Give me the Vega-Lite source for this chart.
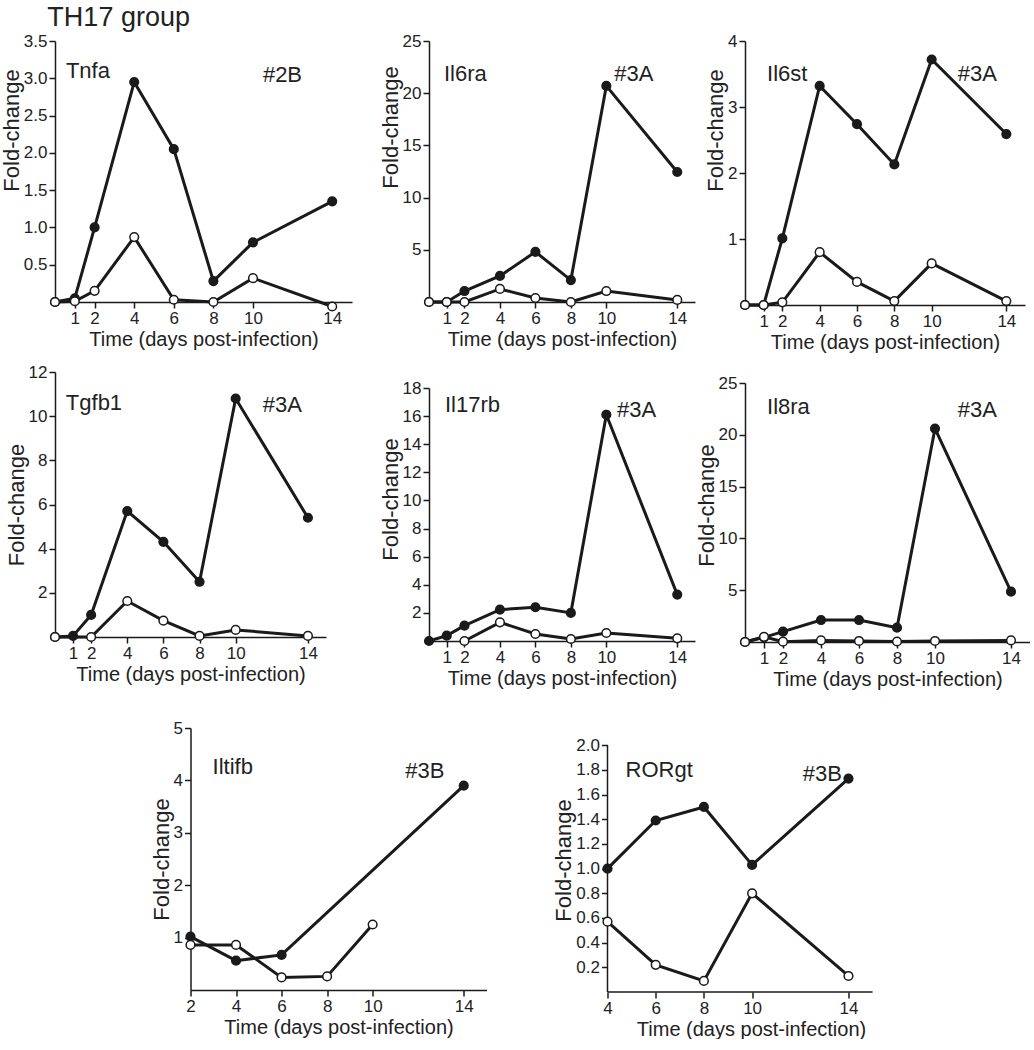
{
"$schema": "https://vega.github.io/schema/vega-lite/v6.json",
"padding": {"left": 0, "top": 4, "right": 0, "bottom": 0},
"background": "white",
"title": {"text": "TH17 group", "anchor": "start", "fontSize": 27, "fontWeight": "normal", "font": "Liberation Sans", "color": "#222", "dx": 47, "offset": 0},
"config": {
  "view": {"stroke": null},
  "axis": {"domainColor": "#1a1a1a", "domainWidth": 1.5, "tickColor": "#1a1a1a", "tickWidth": 1.5, "tickSize": 6, "labelFont": "Liberation Sans", "labelFontSize": 17, "labelColor": "#222", "labelPadding": 2, "labelFlush": false, "labelOverlap": false, "titleFont": "Liberation Sans", "titleFontWeight": "normal", "titleColor": "#222", "grid": false},
  "axisX": {"titleFontSize": 20, "titlePadding": 3},
  "axisY": {"titleFontSize": 22, "titlePadding": 0},
  "text": {"font": "Liberation Sans", "fontSize": 22, "color": "#222", "align": "left", "baseline": "middle"},
  "line": {"color": "#1a1a1a", "strokeWidth": 3, "clip": false},
  "point": {"shape": "circle", "filled": true, "stroke": "#1a1a1a", "strokeWidth": 1.5, "size": 75, "opacity": 1},
  "rule": {"color": "#1a1a1a", "strokeWidth": 1.5}
},
"datasets": {
  "series": [
    {"panel":"Tnfa","series":"filled","day":0,"fold":0},{"panel":"Tnfa","series":"filled","day":1,"fold":0.05},{"panel":"Tnfa","series":"filled","day":2,"fold":1.0},{"panel":"Tnfa","series":"filled","day":4,"fold":2.95},{"panel":"Tnfa","series":"filled","day":6,"fold":2.05},{"panel":"Tnfa","series":"filled","day":8,"fold":0.28},{"panel":"Tnfa","series":"filled","day":10,"fold":0.8},{"panel":"Tnfa","series":"filled","day":14,"fold":1.35},
    {"panel":"Tnfa","series":"open","day":0,"fold":0},{"panel":"Tnfa","series":"open","day":1,"fold":0.01},{"panel":"Tnfa","series":"open","day":2,"fold":0.15},{"panel":"Tnfa","series":"open","day":4,"fold":0.87},{"panel":"Tnfa","series":"open","day":6,"fold":0.03},{"panel":"Tnfa","series":"open","day":8,"fold":0.0},{"panel":"Tnfa","series":"open","day":10,"fold":0.32},{"panel":"Tnfa","series":"open","day":14,"fold":-0.06},
    {"panel":"Il6ra","series":"filled","day":0,"fold":0},{"panel":"Il6ra","series":"filled","day":1,"fold":0},{"panel":"Il6ra","series":"filled","day":2,"fold":1.05},{"panel":"Il6ra","series":"filled","day":4,"fold":2.5},{"panel":"Il6ra","series":"filled","day":6,"fold":4.8},{"panel":"Il6ra","series":"filled","day":8,"fold":2.1},{"panel":"Il6ra","series":"filled","day":10,"fold":20.7},{"panel":"Il6ra","series":"filled","day":14,"fold":12.45},
    {"panel":"Il6ra","series":"open","day":0,"fold":0},{"panel":"Il6ra","series":"open","day":1,"fold":0},{"panel":"Il6ra","series":"open","day":2,"fold":0},{"panel":"Il6ra","series":"open","day":4,"fold":1.25},{"panel":"Il6ra","series":"open","day":6,"fold":0.38},{"panel":"Il6ra","series":"open","day":8,"fold":0},{"panel":"Il6ra","series":"open","day":10,"fold":1.05},{"panel":"Il6ra","series":"open","day":14,"fold":0.2},
    {"panel":"Il6st","series":"filled","day":0,"fold":0},{"panel":"Il6st","series":"filled","day":1,"fold":0},{"panel":"Il6st","series":"filled","day":2,"fold":1.01},{"panel":"Il6st","series":"filled","day":4,"fold":3.32},{"panel":"Il6st","series":"filled","day":6,"fold":2.74},{"panel":"Il6st","series":"filled","day":8,"fold":2.13},{"panel":"Il6st","series":"filled","day":10,"fold":3.72},{"panel":"Il6st","series":"filled","day":14,"fold":2.59},
    {"panel":"Il6st","series":"open","day":0,"fold":0},{"panel":"Il6st","series":"open","day":1,"fold":0},{"panel":"Il6st","series":"open","day":2,"fold":0.04},{"panel":"Il6st","series":"open","day":4,"fold":0.8},{"panel":"Il6st","series":"open","day":6,"fold":0.35},{"panel":"Il6st","series":"open","day":8,"fold":0.06},{"panel":"Il6st","series":"open","day":10,"fold":0.63},{"panel":"Il6st","series":"open","day":14,"fold":0.06},
    {"panel":"Tgfb1","series":"filled","day":0,"fold":0},{"panel":"Tgfb1","series":"filled","day":1,"fold":0.05},{"panel":"Tgfb1","series":"filled","day":2,"fold":1.0},{"panel":"Tgfb1","series":"filled","day":4,"fold":5.7},{"panel":"Tgfb1","series":"filled","day":6,"fold":4.31},{"panel":"Tgfb1","series":"filled","day":8,"fold":2.5},{"panel":"Tgfb1","series":"filled","day":10,"fold":10.8},{"panel":"Tgfb1","series":"filled","day":14,"fold":5.4},
    {"panel":"Tgfb1","series":"open","day":0,"fold":0},{"panel":"Tgfb1","series":"open","day":2,"fold":0},{"panel":"Tgfb1","series":"open","day":4,"fold":1.63},{"panel":"Tgfb1","series":"open","day":6,"fold":0.74},{"panel":"Tgfb1","series":"open","day":8,"fold":0.05},{"panel":"Tgfb1","series":"open","day":10,"fold":0.32},{"panel":"Tgfb1","series":"open","day":14,"fold":0.05},
    {"panel":"Il17rb","series":"filled","day":0,"fold":0},{"panel":"Il17rb","series":"filled","day":1,"fold":0.38},{"panel":"Il17rb","series":"filled","day":2,"fold":1.09},{"panel":"Il17rb","series":"filled","day":4,"fold":2.23},{"panel":"Il17rb","series":"filled","day":6,"fold":2.4},{"panel":"Il17rb","series":"filled","day":8,"fold":2.0},{"panel":"Il17rb","series":"filled","day":10,"fold":16.1},{"panel":"Il17rb","series":"filled","day":14,"fold":3.3},
    {"panel":"Il17rb","series":"open","day":2,"fold":0},{"panel":"Il17rb","series":"open","day":4,"fold":1.33},{"panel":"Il17rb","series":"open","day":6,"fold":0.5},{"panel":"Il17rb","series":"open","day":8,"fold":0.14},{"panel":"Il17rb","series":"open","day":10,"fold":0.57},{"panel":"Il17rb","series":"open","day":14,"fold":0.19},
    {"panel":"Il8ra","series":"filled","day":0,"fold":0},{"panel":"Il8ra","series":"filled","day":1,"fold":0.45},{"panel":"Il8ra","series":"filled","day":2,"fold":1.0},{"panel":"Il8ra","series":"filled","day":4,"fold":2.12},{"panel":"Il8ra","series":"filled","day":6,"fold":2.12},{"panel":"Il8ra","series":"filled","day":8,"fold":1.38},{"panel":"Il8ra","series":"filled","day":10,"fold":20.6},{"panel":"Il8ra","series":"filled","day":14,"fold":4.86},
    {"panel":"Il8ra","series":"open","day":0,"fold":0},{"panel":"Il8ra","series":"open","day":1,"fold":0.5},{"panel":"Il8ra","series":"open","day":2,"fold":0.03},{"panel":"Il8ra","series":"open","day":4,"fold":0.15},{"panel":"Il8ra","series":"open","day":6,"fold":0.1},{"panel":"Il8ra","series":"open","day":8,"fold":0.05},{"panel":"Il8ra","series":"open","day":10,"fold":0.1},{"panel":"Il8ra","series":"open","day":14,"fold":0.15},
    {"panel":"Iltifb","series":"filled","day":2,"fold":1.02},{"panel":"Iltifb","series":"filled","day":4,"fold":0.56},{"panel":"Iltifb","series":"filled","day":6,"fold":0.67},{"panel":"Iltifb","series":"filled","day":14,"fold":3.9},
    {"panel":"Iltifb","series":"open","day":2,"fold":0.86},{"panel":"Iltifb","series":"open","day":4,"fold":0.86},{"panel":"Iltifb","series":"open","day":6,"fold":0.24},{"panel":"Iltifb","series":"open","day":8,"fold":0.26},{"panel":"Iltifb","series":"open","day":10,"fold":1.25},
    {"panel":"RORgt","series":"filled","day":4,"fold":1.0},{"panel":"RORgt","series":"filled","day":6,"fold":1.39},{"panel":"RORgt","series":"filled","day":8,"fold":1.5},{"panel":"RORgt","series":"filled","day":10,"fold":1.03},{"panel":"RORgt","series":"filled","day":14,"fold":1.73},
    {"panel":"RORgt","series":"open","day":4,"fold":0.57},{"panel":"RORgt","series":"open","day":6,"fold":0.22},{"panel":"RORgt","series":"open","day":8,"fold":0.09},{"panel":"RORgt","series":"open","day":10,"fold":0.8},{"panel":"RORgt","series":"open","day":14,"fold":0.13}
  ],
  "labels": [
    {"panel":"Tnfa","tag":"#2B"},{"panel":"Il6ra","tag":"#3A"},{"panel":"Il6st","tag":"#3A"},{"panel":"Tgfb1","tag":"#3A"},{"panel":"Il17rb","tag":"#3A"},{"panel":"Il8ra","tag":"#3A"},{"panel":"Iltifb","tag":"#3B"},{"panel":"RORgt","tag":"#3B"}
  ]
},
"vconcat": [
  {"hconcat": [
    {"vconcat": [
      {"width": 297, "height": 261,
       "layer": [
        {"data": {"name": "series"}, "transform": [{"filter": "datum.panel === 'Tnfa'"}], "mark": "line",
         "encoding": {"x": {"field": "day", "type": "quantitative", "scale": {"domain": [0, 15], "nice": false}, "axis": {"values": [1,2,4,6,8,10,14], "format": "d", "title": "Time (days post-infection)", "labelOverlap": false, "tickCount": 30}},
                      "y": {"field": "fold", "type": "quantitative", "scale": {"domain": [0, 3.5], "nice": false}, "axis": {"values": [0.5,1,1.5,2,2.5,3,3.5], "format": ".1f", "title": "Fold-change", "labelOverlap": false, "tickCount": 30, "titleY": 89}},
                      "detail": {"field": "series"}}},
        {"data": {"name": "series"}, "transform": [{"filter": "datum.panel === 'Tnfa'"}], "mark": "point",
         "encoding": {"x": {"field": "day", "type": "quantitative", "scale": {"domain": [0, 15], "nice": false}}, "y": {"field": "fold", "type": "quantitative", "scale": {"domain": [0, 3.5], "nice": false}},
                      "fill": {"field": "series", "type": "nominal", "scale": {"domain": ["filled", "open"], "range": ["#1a1a1a", "white"]}, "legend": null}}},
        {"data": {"name": "labels"}, "transform": [{"filter": "datum.panel === 'Tnfa'"}], "mark": "text", "encoding": {"x": {"datum": 0.55, "type": "quantitative", "scale": {"domain": [0, 15], "nice": false}}, "y": {"datum": 3.1, "type": "quantitative", "scale": {"domain": [0, 3.5], "nice": false}}, "text": {"field": "panel"}}},
        {"data": {"name": "labels"}, "transform": [{"filter": "datum.panel === 'Tnfa'"}], "mark": "text", "encoding": {"x": {"datum": 10.5, "type": "quantitative", "scale": {"domain": [0, 15], "nice": false}}, "y": {"datum": 3.05, "type": "quantitative", "scale": {"domain": [0, 3.5], "nice": false}}, "text": {"field": "tag"}}}
       ]},
      {"width": 271, "height": 265,
       "layer": [
        {"data": {"name": "series"}, "transform": [{"filter": "datum.panel === 'Tgfb1'"}], "mark": "line",
         "encoding": {"x": {"field": "day", "type": "quantitative", "scale": {"domain": [0, 15], "nice": false}, "axis": {"values": [1,2,4,6,8,10,14], "format": "d", "title": "Time (days post-infection)", "labelOverlap": false, "tickCount": 30}},
                      "y": {"field": "fold", "type": "quantitative", "scale": {"domain": [0, 12], "nice": false}, "axis": {"values": [2,4,6,8,10,12], "format": "d", "title": "Fold-change", "labelOverlap": false, "tickCount": 30}},
                      "detail": {"field": "series"}}},
        {"data": {"name": "series"}, "transform": [{"filter": "datum.panel === 'Tgfb1'"}], "mark": "point",
         "encoding": {"x": {"field": "day", "type": "quantitative", "scale": {"domain": [0, 15], "nice": false}}, "y": {"field": "fold", "type": "quantitative", "scale": {"domain": [0, 12], "nice": false}},
                      "fill": {"field": "series", "type": "nominal", "scale": {"domain": ["filled", "open"], "range": ["#1a1a1a", "white"]}, "legend": null}}},
        {"data": {"name": "labels"}, "transform": [{"filter": "datum.panel === 'Tgfb1'"}], "mark": "text", "encoding": {"x": {"datum": 0.6, "type": "quantitative", "scale": {"domain": [0, 15], "nice": false}}, "y": {"datum": 10.6, "type": "quantitative", "scale": {"domain": [0, 12], "nice": false}}, "text": {"field": "panel"}}},
        {"data": {"name": "labels"}, "transform": [{"filter": "datum.panel === 'Tgfb1'"}], "mark": "text", "encoding": {"x": {"datum": 11.5, "type": "quantitative", "scale": {"domain": [0, 15], "nice": false}}, "y": {"datum": 10.5, "type": "quantitative", "scale": {"domain": [0, 12], "nice": false}}, "text": {"field": "tag"}}}
       ]}
    ], "spacing": 14},
    {"hconcat": [
      {"vconcat": [
        {"width": 266, "height": 261,
         "layer": [
          {"data": {"name": "series"}, "transform": [{"filter": "datum.panel === 'Il6ra'"}], "mark": "line",
           "encoding": {"x": {"field": "day", "type": "quantitative", "scale": {"domain": [0, 15], "nice": false}, "axis": {"values": [1,2,4,6,8,10,14], "format": "d", "title": "Time (days post-infection)", "labelOverlap": false, "tickCount": 30}},
                        "y": {"field": "fold", "type": "quantitative", "scale": {"domain": [0, 25], "nice": false}, "axis": {"values": [5,10,15,20,25], "format": "d", "title": "Fold-change", "labelOverlap": false, "tickCount": 30, "titleY": 86}},
                        "detail": {"field": "series"}}},
          {"data": {"name": "series"}, "transform": [{"filter": "datum.panel === 'Il6ra'"}], "mark": "point",
           "encoding": {"x": {"field": "day", "type": "quantitative", "scale": {"domain": [0, 15], "nice": false}}, "y": {"field": "fold", "type": "quantitative", "scale": {"domain": [0, 25], "nice": false}},
                        "fill": {"field": "series", "type": "nominal", "scale": {"domain": ["filled", "open"], "range": ["#1a1a1a", "white"]}, "legend": null}}},
          {"data": {"name": "labels"}, "transform": [{"filter": "datum.panel === 'Il6ra'"}], "mark": "text", "encoding": {"x": {"datum": 0.84, "type": "quantitative", "scale": {"domain": [0, 15], "nice": false}}, "y": {"datum": 21.8, "type": "quantitative", "scale": {"domain": [0, 25], "nice": false}}, "text": {"field": "panel"}}},
          {"data": {"name": "labels"}, "transform": [{"filter": "datum.panel === 'Il6ra'"}], "mark": "text", "encoding": {"x": {"datum": 10.45, "type": "quantitative", "scale": {"domain": [0, 15], "nice": false}}, "y": {"datum": 21.8, "type": "quantitative", "scale": {"domain": [0, 25], "nice": false}}, "text": {"field": "tag"}}}
         ]},
        {"width": 266, "height": 253,
         "layer": [
          {"data": {"name": "series"}, "transform": [{"filter": "datum.panel === 'Il17rb'"}], "mark": "line",
           "encoding": {"x": {"field": "day", "type": "quantitative", "scale": {"domain": [0, 15], "nice": false}, "axis": {"values": [1,2,4,6,8,10,14], "format": "d", "title": "Time (days post-infection)", "labelOverlap": false, "tickCount": 30}},
                        "y": {"field": "fold", "type": "quantitative", "scale": {"domain": [0, 18], "nice": false}, "axis": {"values": [2,4,6,8,10,12,14,16,18], "format": "d", "title": "Fold-change", "labelOverlap": false, "tickCount": 30, "titleY": 111}},
                        "detail": {"field": "series"}}},
          {"data": {"name": "series"}, "transform": [{"filter": "datum.panel === 'Il17rb'"}], "mark": "point",
           "encoding": {"x": {"field": "day", "type": "quantitative", "scale": {"domain": [0, 15], "nice": false}}, "y": {"field": "fold", "type": "quantitative", "scale": {"domain": [0, 18], "nice": false}},
                        "fill": {"field": "series", "type": "nominal", "scale": {"domain": ["filled", "open"], "range": ["#1a1a1a", "white"]}, "legend": null}}},
          {"data": {"name": "labels"}, "transform": [{"filter": "datum.panel === 'Il17rb'"}], "mark": "text", "encoding": {"x": {"datum": 0.9, "type": "quantitative", "scale": {"domain": [0, 15], "nice": false}}, "y": {"datum": 16.8, "type": "quantitative", "scale": {"domain": [0, 18], "nice": false}}, "text": {"field": "panel"}}},
          {"data": {"name": "labels"}, "transform": [{"filter": "datum.panel === 'Il17rb'"}], "mark": "text", "encoding": {"x": {"datum": 10.6, "type": "quantitative", "scale": {"domain": [0, 15], "nice": false}}, "y": {"datum": 16.4, "type": "quantitative", "scale": {"domain": [0, 18], "nice": false}}, "text": {"field": "tag"}}}
         ]}
      ], "spacing": 30},
      {"vconcat": [
        {"width": 280, "height": 264,
         "layer": [
          {"data": {"name": "series"}, "transform": [{"filter": "datum.panel === 'Il6st'"}], "mark": "line",
           "encoding": {"x": {"field": "day", "type": "quantitative", "scale": {"domain": [0, 15], "nice": false}, "axis": {"values": [1,2,4,6,8,10,14], "format": "d", "title": "Time (days post-infection)", "labelOverlap": false, "tickCount": 30}},
                        "y": {"field": "fold", "type": "quantitative", "scale": {"domain": [0, 4], "nice": false}, "axis": {"values": [1,2,3,4], "format": "d", "title": "Fold-change", "labelOverlap": false, "tickCount": 30, "titleY": 89}},
                        "detail": {"field": "series"}}},
          {"data": {"name": "series"}, "transform": [{"filter": "datum.panel === 'Il6st'"}], "mark": "point",
           "encoding": {"x": {"field": "day", "type": "quantitative", "scale": {"domain": [0, 15], "nice": false}}, "y": {"field": "fold", "type": "quantitative", "scale": {"domain": [0, 4], "nice": false}},
                        "fill": {"field": "series", "type": "nominal", "scale": {"domain": ["filled", "open"], "range": ["#1a1a1a", "white"]}, "legend": null}}},
          {"data": {"name": "labels"}, "transform": [{"filter": "datum.panel === 'Il6st'"}], "mark": "text", "encoding": {"x": {"datum": 1.18, "type": "quantitative", "scale": {"domain": [0, 15], "nice": false}}, "y": {"datum": 3.5, "type": "quantitative", "scale": {"domain": [0, 4], "nice": false}}, "text": {"field": "panel"}}},
          {"data": {"name": "labels"}, "transform": [{"filter": "datum.panel === 'Il6st'"}], "mark": "text", "encoding": {"x": {"datum": 11.4, "type": "quantitative", "scale": {"domain": [0, 15], "nice": false}}, "y": {"datum": 3.5, "type": "quantitative", "scale": {"domain": [0, 4], "nice": false}}, "text": {"field": "tag"}}}
         ]},
        {"width": 285, "height": 259,
         "layer": [
          {"data": {"name": "series"}, "transform": [{"filter": "datum.panel === 'Il8ra'"}], "mark": "line",
           "encoding": {"x": {"field": "day", "type": "quantitative", "scale": {"domain": [0, 15], "nice": false}, "axis": {"values": [1,2,4,6,8,10,14], "format": "d", "title": "Time (days post-infection)", "labelOverlap": false, "tickCount": 30}},
                        "y": {"field": "fold", "type": "quantitative", "scale": {"domain": [0, 25], "nice": false}, "axis": {"values": [5,10,15,20,25], "format": "d", "title": "Fold-change", "labelOverlap": false, "tickCount": 30, "titleY": 122}},
                        "detail": {"field": "series"}}},
          {"data": {"name": "series"}, "transform": [{"filter": "datum.panel === 'Il8ra'"}], "mark": "point",
           "encoding": {"x": {"field": "day", "type": "quantitative", "scale": {"domain": [0, 15], "nice": false}}, "y": {"field": "fold", "type": "quantitative", "scale": {"domain": [0, 25], "nice": false}},
                        "fill": {"field": "series", "type": "nominal", "scale": {"domain": ["filled", "open"], "range": ["#1a1a1a", "white"]}, "legend": null}}},
          {"data": {"name": "labels"}, "transform": [{"filter": "datum.panel === 'Il8ra'"}], "mark": "text", "encoding": {"x": {"datum": 1.16, "type": "quantitative", "scale": {"domain": [0, 15], "nice": false}}, "y": {"datum": 22.7, "type": "quantitative", "scale": {"domain": [0, 25], "nice": false}}, "text": {"field": "panel"}}},
          {"data": {"name": "labels"}, "transform": [{"filter": "datum.panel === 'Il8ra'"}], "mark": "text", "encoding": {"x": {"datum": 11.2, "type": "quantitative", "scale": {"domain": [0, 15], "nice": false}}, "y": {"datum": 22.4, "type": "quantitative", "scale": {"domain": [0, 25], "nice": false}}, "text": {"field": "tag"}}}
         ]}
      ], "spacing": 22}
    ], "spacing": 0}
  ], "spacing": 27},
  {"hconcat": [
    {"width": 296, "height": 262,
     "layer": [
      {"data": {"name": "series"}, "transform": [{"filter": "datum.panel === 'Iltifb'"}], "mark": "line",
       "encoding": {"x": {"field": "day", "type": "quantitative", "scale": {"domain": [2, 15], "nice": false}, "axis": {"values": [2,4,6,8,10,14], "format": "d", "title": "Time (days post-infection)", "labelOverlap": false, "tickCount": 30}},
                    "y": {"field": "fold", "type": "quantitative", "scale": {"domain": [0, 5], "nice": false}, "axis": {"values": [1,2,3,4,5], "format": "d", "title": "Fold-change", "labelOverlap": false, "tickCount": 30}},
                    "detail": {"field": "series"}}},
      {"data": {"name": "series"}, "transform": [{"filter": "datum.panel === 'Iltifb'"}], "mark": "point",
       "encoding": {"x": {"field": "day", "type": "quantitative", "scale": {"domain": [2, 15], "nice": false}}, "y": {"field": "fold", "type": "quantitative", "scale": {"domain": [0, 5], "nice": false}},
                    "fill": {"field": "series", "type": "nominal", "scale": {"domain": ["filled", "open"], "range": ["#1a1a1a", "white"]}, "legend": null}}},
      {"data": {"name": "labels"}, "transform": [{"filter": "datum.panel === 'Iltifb'"}], "mark": "text", "encoding": {"x": {"datum": 2.97, "type": "quantitative", "scale": {"domain": [2, 15], "nice": false}}, "y": {"datum": 4.26, "type": "quantitative", "scale": {"domain": [0, 5], "nice": false}}, "text": {"field": "panel"}}},
      {"data": {"name": "labels"}, "transform": [{"filter": "datum.panel === 'Iltifb'"}], "mark": "text", "encoding": {"x": {"datum": 11.43, "type": "quantitative", "scale": {"domain": [2, 15], "nice": false}}, "y": {"datum": 4.18, "type": "quantitative", "scale": {"domain": [0, 5], "nice": false}}, "text": {"field": "tag"}}}
     ]},
    {"width": 287, "height": 264,
     "layer": [
      {"data": {"name": "series"}, "transform": [{"filter": "datum.panel === 'RORgt'"}], "mark": "line",
       "encoding": {"x": {"field": "day", "type": "quantitative", "scale": {"domain": [4, 15.91], "nice": false}, "axis": {"values": [4,6,8,10,14], "format": "d", "title": "Time (days post-infection)", "domain": false, "labelOverlap": false, "tickCount": 30}},
                    "y": {"field": "fold", "type": "quantitative", "scale": {"domain": [0, 2.14], "nice": false}, "axis": {"values": [0.2,0.4,0.6,0.8,1.0,1.2,1.4,1.6,1.8,2.0], "format": ".1f", "title": "Fold-change", "domain": false, "labelOverlap": false, "tickCount": 30}},
                    "detail": {"field": "series"}}},
      {"data": {"name": "labels"}, "transform": [{"filter": "datum.panel === 'RORgt'"}], "mark": "rule", "encoding": {"x": {"datum": 4, "type": "quantitative", "scale": {"domain": [4, 15.91], "nice": false}}, "y": {"datum": 0, "type": "quantitative", "scale": {"domain": [0, 2.14], "nice": false}}, "y2": {"datum": 2.0}}},
      {"data": {"name": "labels"}, "transform": [{"filter": "datum.panel === 'RORgt'"}], "mark": "rule", "encoding": {"x": {"datum": 4, "type": "quantitative", "scale": {"domain": [4, 15.91], "nice": false}}, "x2": {"datum": 15}, "y": {"datum": 0, "type": "quantitative", "scale": {"domain": [0, 2.14], "nice": false}}}},
      {"data": {"name": "series"}, "transform": [{"filter": "datum.panel === 'RORgt'"}], "mark": "point",
       "encoding": {"x": {"field": "day", "type": "quantitative", "scale": {"domain": [4, 15.91], "nice": false}}, "y": {"field": "fold", "type": "quantitative", "scale": {"domain": [0, 2.14], "nice": false}},
                    "fill": {"field": "series", "type": "nominal", "scale": {"domain": ["filled", "open"], "range": ["#1a1a1a", "white"]}, "legend": null}}},
      {"data": {"name": "labels"}, "transform": [{"filter": "datum.panel === 'RORgt'"}], "mark": "text", "encoding": {"x": {"datum": 4.75, "type": "quantitative", "scale": {"domain": [4, 15.91], "nice": false}}, "y": {"datum": 1.8, "type": "quantitative", "scale": {"domain": [0, 2.14], "nice": false}}, "text": {"field": "panel"}}},
      {"data": {"name": "labels"}, "transform": [{"filter": "datum.panel === 'RORgt'"}], "mark": "text", "encoding": {"x": {"datum": 12.1, "type": "quantitative", "scale": {"domain": [4, 15.91], "nice": false}}, "y": {"datum": 1.77, "type": "quantitative", "scale": {"domain": [0, 2.14], "nice": false}}, "text": {"field": "tag"}}}
     ]}
  ], "spacing": 66}
],
"spacing": 30,
"center": true
}
